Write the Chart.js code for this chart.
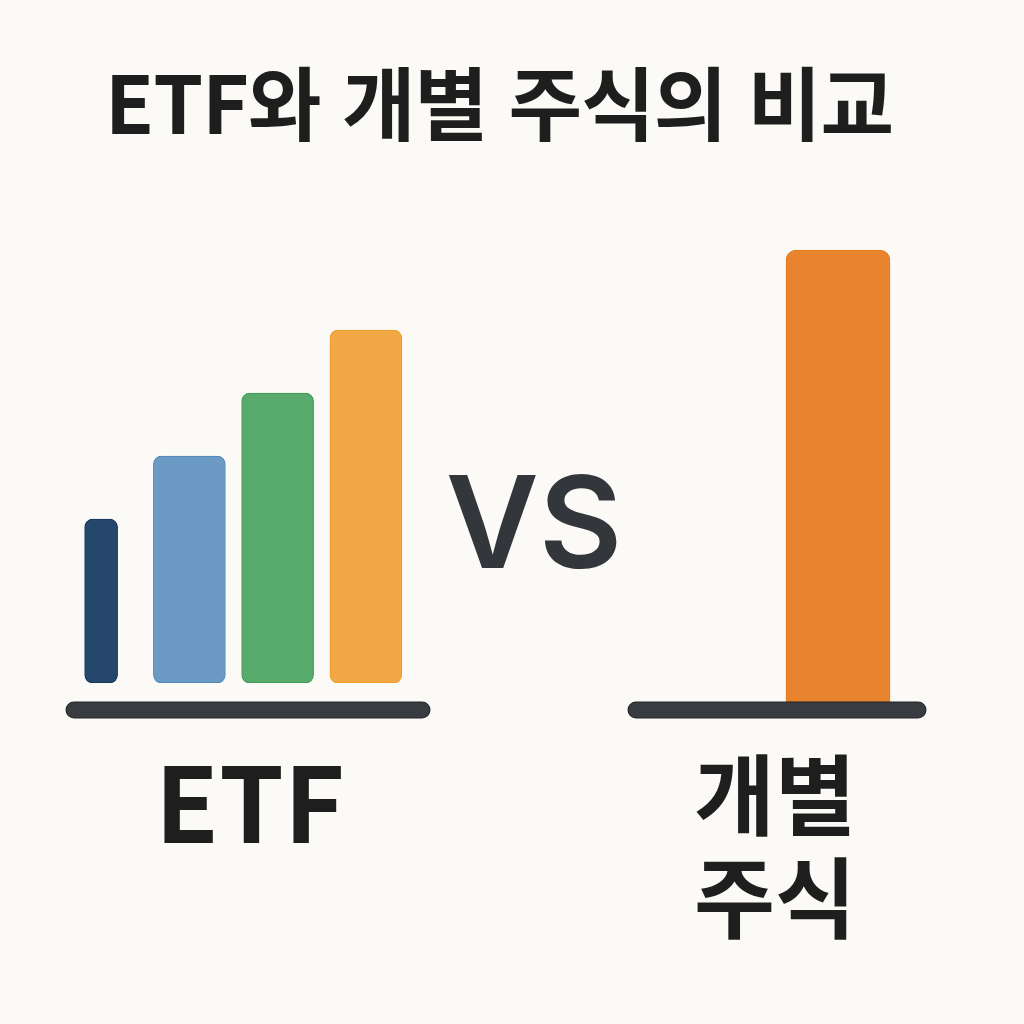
<!DOCTYPE html>
<html lang="ko">
<head>
<meta charset="utf-8">
<title>ETF와 개별 주식의 비교</title>
<script src="https://cdn.jsdelivr.net/npm/chart.js@4/dist/chart.umd.min.js"></script>
<style>
  html, body { margin: 0; padding: 0; background: #fcfaf6; }
  #stage { position: relative; width: 1024px; height: 1024px; overflow: hidden; background: #fcfaf6; }
  canvas { position: absolute; left: 0; top: 0; }
  .txt { position: absolute; font-family: "Noto Sans CJK KR", "Noto Sans", sans-serif; font-weight: 700; color: #1e1e1e; white-space: nowrap; text-align: center; line-height: 1; }
  #title { left: 0; width: 998px; top: 59px; font-size: 80px; letter-spacing: -1px; }
  #vs { left: 434px; width: 200px; top: 458px; font-family: Inter, "Noto Sans", sans-serif; font-weight: 600; font-size: 128px; color: #33363b; }
  #etfLabel { left: 100px; width: 300px; top: 746px; font-size: 104px; }
  #stockLabel { left: 625px; width: 300px; top: 738px; font-size: 88px; line-height: 103px; }
</style>
</head>
<body>
<div id="stage">
  <canvas id="etfChart" width="1024" height="1024"></canvas>
  <canvas id="stockChart" width="1024" height="1024"></canvas>
  <div class="txt" id="title">ETF와 개별 주식의 비교</div>
  <div class="txt" id="vs">VS</div>
  <div class="txt" id="etfLabel">ETF</div>
  <div class="txt" id="stockLabel">개별<br>주식</div>
</div>
<script>
// ETF side: four ascending bars
const etfCategories = ['ETF 1', 'ETF 2', 'ETF 3', 'ETF 4'];
const etfValues = [26, 36, 46, 56];
// Individual stock side: one tall bar
const stockCategories = ['개별 주식'];
const stockValues = [72];

const etfFill = ['#24476b', '#6b9ac4', '#58ab6c', '#f2a845'];
const etfBorder = ['#17345a', '#4f85bb', '#3d9a55', '#f09a2a'];
const etfWidths = [33, 72, 72, 72];

// Thick rounded baseline drawn under the bars of each panel
const baselinePlugin = {
  id: 'baseline',
  afterDatasetsDraw(chart, args, opts) {
    const ctx = chart.ctx;
    const y = chart.scales.y.getPixelForValue(0) + opts.offset;
    ctx.save();
    ctx.lineCap = 'round';
    ctx.strokeStyle = '#24272b';
    ctx.lineWidth = opts.width + 2;
    ctx.beginPath();
    ctx.moveTo(opts.x1, y);
    ctx.lineTo(opts.x2, y);
    ctx.stroke();
    ctx.strokeStyle = '#383b40';
    ctx.lineWidth = opts.width;
    ctx.beginPath();
    ctx.moveTo(opts.x1, y);
    ctx.lineTo(opts.x2, y);
    ctx.stroke();
    ctx.restore();
  }
};

const hiddenScales = (max) => ({
  x: { display: false, offset: true, grid: { display: false } },
  y: { display: false, min: 0, max: max, grid: { display: false } }
});

// One dataset per ETF bar so that each bar can carry its own width
const etfDatasets = etfValues.map((v, i) => ({
  data: etfValues.map((w, j) => (j === i ? w : null)),
  backgroundColor: etfFill[i],
  borderColor: etfBorder[i],
  borderWidth: 1,
  borderRadius: 8,
  borderSkipped: false,
  barThickness: etfWidths[i],
  grouped: false
}));

new Chart(document.getElementById('etfChart'), {
  type: 'bar',
  data: { labels: etfCategories, datasets: etfDatasets },
  options: {
    responsive: false,
    animation: false,
    events: [],
    layout: { padding: { left: 57, right: 1024 - 410, top: 179, bottom: 1024 - 683 } },
    scales: hiddenScales(80),
    plugins: {
      legend: { display: false },
      tooltip: { enabled: false },
      baseline: { offset: 27, width: 15, x1: 74, x2: 422 }
    }
  },
  plugins: [baselinePlugin]
});

new Chart(document.getElementById('stockChart'), {
  type: 'bar',
  data: {
    labels: stockCategories,
    datasets: [{
      data: stockValues,
      backgroundColor: '#e8842e',
      borderColor: '#e77a1c',
      borderWidth: 1,
      borderRadius: { topLeft: 10, topRight: 10, bottomLeft: 0, bottomRight: 0 },
      borderSkipped: false,
      barThickness: 104
    }]
  },
  options: {
    responsive: false,
    animation: false,
    events: [],
    layout: { padding: { left: 750, right: 1024 - 926, top: 200, bottom: 1024 - 702 } },
    scales: hiddenScales(80),
    plugins: {
      legend: { display: false },
      tooltip: { enabled: false },
      baseline: { offset: 8, width: 15, x1: 636, x2: 918 }
    }
  },
  plugins: [baselinePlugin]
});
</script>
</body>
</html>
